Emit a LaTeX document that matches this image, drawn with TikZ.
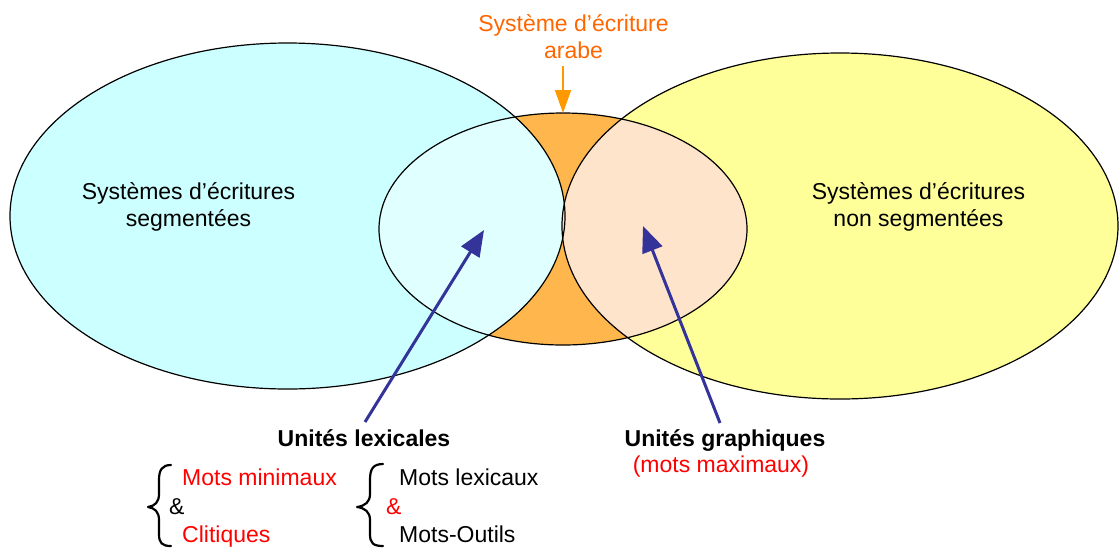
\documentclass[tikz,border=0pt]{standalone}
\usepackage{fontspec}
\setmainfont{Liberation Sans}
\usetikzlibrary{arrows.meta}
\definecolor{cyanfill}{HTML}{CCFFFF}
\definecolor{yellowfill}{HTML}{FFFF99}
\definecolor{orangefill}{RGB}{255,183,77}
\definecolor{lightcyanfill}{HTML}{E0FFFF}
\definecolor{peachfill}{HTML}{FFE4CC}
\definecolor{orangetext}{HTML}{FF6600}
\definecolor{orangearrow}{HTML}{FF9900}
\definecolor{bluearrow}{HTML}{333399}
\definecolor{redtext}{HTML}{FF0000}
\tikzset{
  lbl/.style={inner sep=0pt, anchor=base, font=\fontsize{23}{27}\selectfont},
  lblw/.style={inner sep=0pt, anchor=base west, font=\fontsize{23}{27}\selectfont},
  outline/.style={draw=black, line width=1.2pt},
  bluearr/.style={draw=bluearrow, line width=3pt, -{Triangle[length=26pt,width=21pt]}},
  orangearr/.style={draw=orangearrow, line width=2pt, -{Triangle[length=23pt,width=16pt]}},
  bracestyle/.style={draw=black, line width=2.2pt, line cap=round, line join=round}
}
\begin{document}
\begin{tikzpicture}[x=1pt,y=-1pt]
\useasboundingbox (0,0) rectangle (1119,547);
% fills
\fill[cyanfill] (287.5,216) ellipse [x radius=277.5pt, y radius=173pt];
\fill[yellowfill] (840,226) ellipse [x radius=278pt, y radius=173pt];
\fill[orangefill] (563,229) ellipse [x radius=184pt, y radius=116pt];
\begin{scope}
  \clip (563,229) ellipse [x radius=184pt, y radius=116pt];
  \fill[lightcyanfill] (287.5,216) ellipse [x radius=277.5pt, y radius=173pt];
  \fill[peachfill] (840,226) ellipse [x radius=278pt, y radius=173pt];
\end{scope}
% outlines
\draw[outline] (287.5,216) ellipse [x radius=277.5pt, y radius=173pt];
\draw[outline] (840,226) ellipse [x radius=278pt, y radius=173pt];
\draw[outline] (563,229) ellipse [x radius=184pt, y radius=116pt];

% labels in ellipses
\node[lbl] (seg1) at (188.5,199) {Systèmes d’écritures};
\node[lbl] (seg2) at (188.5,226) {segmentées};
\node[lbl] (nseg1) at (918.5,199) {Systèmes d’écritures};
\node[lbl] (nseg2) at (918.5,226) {non segmentées};

% arabic label
\node[lbl, text=orangetext] (ar1) at (573.5,31) {Système d’écriture};
\node[lbl, text=orangetext] (ar2) at (573.5,58) {arabe};
\coordinate (arTail) at (563,66);
\coordinate (arTip) at (563,113);
\draw[orangearr] (arTail) -- (arTip);

% bottom labels
\node[lbl, font=\fontsize{23}{27}\selectfont\bfseries] (ul) at (364,446) {Unités lexicales};
\node[lbl, font=\fontsize{23}{27}\selectfont\bfseries] (ug) at (725,446) {Unités graphiques};
\node[lbl, text=redtext] (mm) at (721,472) {(mots maximaux)};

% blue arrows
\coordinate (ulTail) at (365,422);
\coordinate (ulTip) at (484,230);
\coordinate (ugTail) at (720,423);
\coordinate (ugTip) at (643,226);
\draw[bluearr] (ulTail) -- (ulTip);
\draw[bluearr] (ugTail) -- (ugTip);

% lists
\node[lblw, text=redtext] (mmin) at (182,485) {Mots minimaux};
\node[lblw] (amp1) at (169,514) {\&};
\node[lblw, text=redtext] (clit) at (182,542) {Clitiques};
\node[lblw] (mlex) at (399,485) {Mots lexicaux};
\node[lblw, text=redtext] (amp2) at (386,514) {\&};
\node[lblw] (mout) at (399,542) {Mots-Outils};

% braces
\draw[bracestyle] (171,465) .. controls (162,465) and (159,470) .. (159,480) -- (159,494) .. controls (159,502) and (155,506) .. (148,507) .. controls (155,508) and (159,512) .. (159,520) -- (159,534) .. controls (159,543) and (162,546) .. (171,546);
\draw[bracestyle] (383,464) .. controls (373,464) and (370,469) .. (370,480) -- (370,494) .. controls (370,502) and (365,506) .. (357,507) .. controls (365,508) and (370,512) .. (370,520) -- (370,534) .. controls (370,543) and (373,546) .. (383,546);
\end{tikzpicture}
\end{document}
